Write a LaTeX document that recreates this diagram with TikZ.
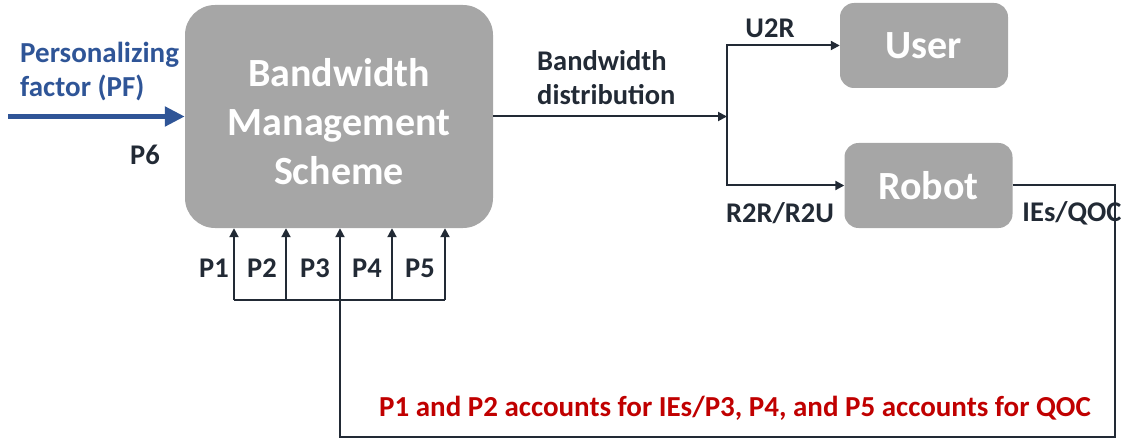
\documentclass[tikz,border=0pt]{standalone}
\usepackage{fontspec}
\setmainfont{Carlito}
\usepackage{tikz}
\usetikzlibrary{arrows.meta, calc}

\definecolor{boxgray}{HTML}{A6A6A6}
\definecolor{pfblue}{HTML}{2F5597}
\definecolor{notered}{HTML}{C00000}
\definecolor{linedark}{HTML}{222A35}

\tikzset{
    bigbox/.style={fill=boxgray, rounded corners=30pt, minimum width=308pt, minimum height=223pt},
    bigtext/.style={text=white, font=\fontsize{40}{49}\selectfont\bfseries, align=center, inner sep=0pt},
    smallbox/.style={fill=boxgray, rounded corners=14pt, minimum width=168pt, minimum height=85pt, text=white, font=\fontsize{40}{48}\selectfont\bfseries},
    flow/.style={draw=linedark, line width=2pt, -{Triangle[length=9pt, width=9pt]}},
    wire/.style={draw=linedark, line width=2pt},
    lbl/.style={text=linedark, font=\fontsize{28.5}{34}\selectfont\bfseries, inner sep=0pt}
}

\begin{document}
\begin{tikzpicture}[x=1pt, y=-1pt]
        \useasboundingbox (0,0) rectangle (1136,441);

        \node[bigbox] (bms) at (339,116.5) {};
        \node[bigtext] (bmstext) at ([yshift=-5pt]bms.center) {Bandwidth\\Management\\Scheme};
        \node[smallbox] (user) at (924,45.5) {User};
        \node[smallbox] (robot) at (928.5,185.5) {Robot};

        \coordinate (pf) at (8,116.5);
        \coordinate (split) at (727,116.5);
        \coordinate (turn) at (1115,437);

        \draw[pfblue, line width=5pt, -{Triangle[length=20pt, width=19pt]}] (pf) -- (bms.west);
        \node[lbl, text=pfblue, anchor=base west, align=left, font=\fontsize{29}{34}\selectfont\bfseries] (pflbl) at (20,97) {Personalizing\\factor (PF)};
        \node[lbl] (p6) at (145,155) {P6};

        \draw[flow] (bms.east) -- (split);
        \draw[flow] (split) |- (user.west);
        \draw[flow] (split) |- (robot.west);
        \node[lbl, anchor=base west, align=left] (bwlbl) at (537,105) {Bandwidth\\distribution};
        \node[lbl] (u2r) at (770,28) {U2R};
        \node[lbl] (r2r) at (780,213) {R2R/R2U};
        \node[lbl] (ies) at (1072,213) {IEs/QOC};

        \foreach \i/\x in {1/234,2/286,3/340,4/392,5/445} {
            \coordinate (bus\i) at (\x,300);
            \draw[flow] (bus\i) -- (bus\i |- bms.south);
        }
        \draw[wire] (bus1) -- (bus5);
        \draw[wire] (robot.east) -| (turn) -| (bus3);

        \foreach \i/\x in {1/214,2/262,3/315,4/367,5/420} {
            \node[lbl] (plbl\i) at (\x,268) {P\i};
        }

        \node[lbl, text=notered, font=\fontsize{29}{34}\selectfont\bfseries] (note) at (735,408) {P1 and P2 accounts for IEs/P3, P4, and P5 accounts for QOC};

    \end{tikzpicture}
\end{document}
